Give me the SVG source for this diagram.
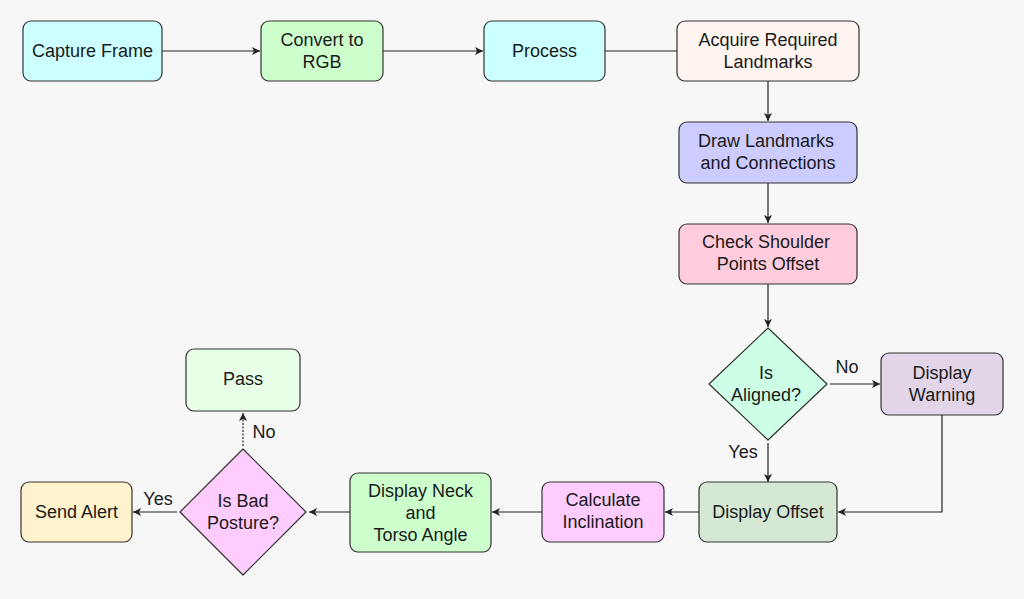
<svg xmlns="http://www.w3.org/2000/svg" width="1024" height="599" viewBox="0 0 1024 599">
<style>
.n{stroke:#333;stroke-width:1.2}
.t{font-family:"Liberation Sans",Arial,sans-serif;font-size:18px;fill:#1a1a1a;text-anchor:middle}
.c{fill:none;stroke:#222;stroke-width:1.2}
</style>
<defs>
<marker id="a" markerWidth="10" markerHeight="10" refX="9" refY="5" orient="auto" markerUnits="userSpaceOnUse">
<path d="M1,1 L9,5 L1,9 L3,5 Z" fill="#222"/>
</marker>
</defs>
<rect width="1024" height="599" fill="#f7f7f7"/>
<g id="connectors">
<path class="c" d="M162,51 H260" marker-end="url(#a)"/>
<path class="c" d="M383,51 H483" marker-end="url(#a)"/>
<path class="c" d="M605,51 H677"/>
<path class="c" d="M768,81 V121" marker-end="url(#a)"/>
<path class="c" d="M768,183 V223" marker-end="url(#a)"/>
<path class="c" d="M768,284 V327" marker-end="url(#a)"/>
<path class="c" d="M830,384 H880" marker-end="url(#a)"/>
<path class="c" d="M768,443 V482" marker-end="url(#a)"/>
<path class="c" d="M942,415 V512 H838" marker-end="url(#a)"/>
<path class="c" d="M699,512 H665" marker-end="url(#a)"/>
<path class="c" d="M542,512 H492" marker-end="url(#a)"/>
<path class="c" d="M350,512 H309" marker-end="url(#a)"/>
<path class="c" d="M177,512 H133" marker-end="url(#a)"/>
<path class="c" d="M243,446 V413" stroke-dasharray="2,1.5" marker-end="url(#a)"/>
<text class="t" x="847" y="373">No</text>
<text class="t" x="743" y="458">Yes</text>
<text class="t" x="264" y="438">No</text>
<text class="t" x="158" y="505">Yes</text>
</g>
<g id="capture"><rect class="n" x="23" y="21" width="139" height="60" rx="8" fill="#ccffff"/><text class="t" x="92.5" y="57">Capture Frame</text></g>
<g id="convert"><rect class="n" x="261" y="21" width="122" height="60" rx="8" fill="#ccffcc"/><text class="t" x="322" y="46">Convert to</text><text class="t" x="322" y="68">RGB</text></g>
<g id="process"><rect class="n" x="484" y="21" width="121" height="60" rx="8" fill="#ccffff"/><text class="t" x="544.5" y="57">Process</text></g>
<g id="acquire"><rect class="n" x="677" y="21" width="182" height="60" rx="8" fill="#fff4f0"/><text class="t" x="768" y="46">Acquire Required</text><text class="t" x="768" y="68">Landmarks</text></g>
<g id="draw"><rect class="n" x="679" y="122" width="178" height="61" rx="8" fill="#ccccff"/><text class="t" x="766" y="147">Draw Landmarks</text><text class="t" x="768" y="169">and Connections</text></g>
<g id="check"><rect class="n" x="679" y="224" width="178" height="60" rx="8" fill="#ffccdd"/><text class="t" x="766" y="248">Check Shoulder</text><text class="t" x="768" y="270">Points Offset</text></g>
<g id="aligned"><path class="n" d="M768,328 L827,384 L768,440 L709,384 Z" stroke-linejoin="round" fill="#ccffe6"/><text class="t" x="766" y="379">Is</text><text class="t" x="766" y="401">Aligned?</text></g>
<g id="warning"><rect class="n" x="881" y="353" width="122" height="62" rx="8" fill="#e1d5e7"/><text class="t" x="942" y="379">Display</text><text class="t" x="942" y="401">Warning</text></g>
<g id="offset"><rect class="n" x="699" y="482" width="138" height="60" rx="8" fill="#d5e8d4"/><text class="t" x="768" y="518">Display Offset</text></g>
<g id="inclination"><rect class="n" x="542" y="482" width="122" height="60" rx="8" fill="#ffccff"/><text class="t" x="603" y="506">Calculate</text><text class="t" x="603" y="528">Inclination</text></g>
<g id="neck"><rect class="n" x="350" y="473" width="141" height="79" rx="8" fill="#ccffcc"/><text class="t" x="420.5" y="497">Display Neck</text><text class="t" x="420.5" y="519">and</text><text class="t" x="420.5" y="541">Torso Angle</text></g>
<g id="posture"><path class="n" d="M243,449 L306,512 L243,575 L180,512 Z" stroke-linejoin="round" fill="#ffccff"/><text class="t" x="243" y="507">Is Bad</text><text class="t" x="243" y="529">Posture?</text></g>
<g id="alert"><rect class="n" x="21" y="482" width="111" height="60" rx="8" fill="#fff2cc"/><text class="t" x="76.5" y="518">Send Alert</text></g>
<g id="pass"><rect class="n" x="186" y="349" width="114" height="62" rx="8" fill="#e6ffe6"/><text class="t" x="243" y="385">Pass</text></g>
</svg>
